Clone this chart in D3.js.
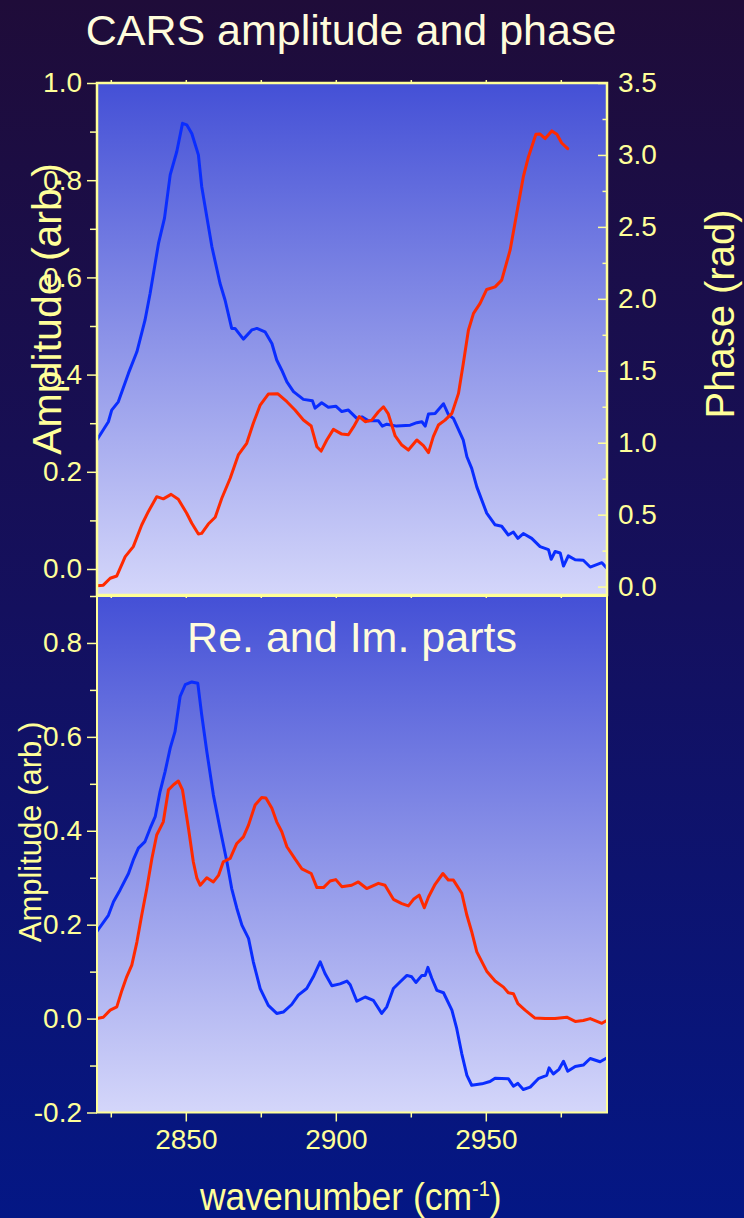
<!DOCTYPE html>
<html><head><meta charset="utf-8">
<script src="https://cdn.jsdelivr.net/npm/d3@7"></script>
<style>html,body{margin:0;padding:0;background:#0a1470;} svg{display:block;}</style>
</head><body>
<script>
// ---- Data ----
// Top panel: CARS amplitude (blue, left axis)
const ampWn = [
  2820.3,2824.2,2825.3,2827.5,2830.9,2833.7,2836.4,2838.1,2840.9,2842.9,
  2844.8,2847.0,2848.9,2850.3,2852.0,2854.2,2855.3,2857.0,2858.7,2861.4,
  2863.1,2865.3,2866.4,2869.2,2872.0,2873.7,2876.4,2878.7,2880.3,2882.0,
  2883.7,2885.9,2889.2,2892.2,2893.1,2895.3,2897.5,2900.0,2902.0,2904.2,
  2907.0,2908.7,2910.9,2914.2,2915.5,2917.0,2920.3,2924.8,2927.0,2928.7,
  2929.8,2930.9,2933.1,2935.9,2937.5,2939.2,2942.5,2943.7,2945.3,2947.0,
  2950.3,2953.1,2955.3,2957.5,2959.2,2960.7,2962.5,2965.3,2968.1,2970.9,
  2971.8,2973.1,2974.8,2975.9,2977.5,2979.8,2982.5,2984.8,2988.7,2990.3];
const ampVal = [
  0.265,0.303,0.327,0.344,0.403,0.447,0.512,0.567,0.670,0.722,
  0.811,0.859,0.917,0.914,0.896,0.852,0.787,0.725,0.663,0.588,
  0.553,0.495,0.495,0.473,0.492,0.495,0.488,0.464,0.430,0.409,
  0.385,0.365,0.349,0.346,0.331,0.342,0.333,0.335,0.324,0.327,
  0.310,0.313,0.305,0.305,0.294,0.298,0.294,0.296,0.301,0.303,
  0.294,0.319,0.320,0.340,0.318,0.310,0.265,0.231,0.207,0.169,
  0.115,0.091,0.088,0.070,0.076,0.063,0.073,0.063,0.046,0.040,
  0.020,0.036,0.033,0.006,0.027,0.019,0.018,0.004,0.013,0.002];
// Top panel: CARS phase (red, right axis, rad)
const phaseWn = [
  2820.3,2822.5,2824.8,2827.0,2829.8,2832.5,2835.3,2837.5,2840.3,2842.5,
  2845.1,2847.5,2850.3,2852.0,2854.2,2855.3,2857.5,2859.8,2862.0,2864.8,
  2867.5,2870.3,2872.5,2874.8,2877.5,2880.7,2883.7,2886.4,2889.2,2891.8,
  2893.7,2895.1,2897.0,2899.2,2902.0,2904.2,2905.9,2907.8,2909.8,2912.0,
  2914.2,2915.9,2917.5,2919.8,2922.0,2924.2,2927.0,2929.2,2930.9,2932.5,
  2934.2,2936.4,2938.7,2940.9,2942.5,2944.2,2945.9,2948.1,2950.3,2953.1,
  2955.3,2958.1,2960.3,2962.5,2964.2,2966.7,2968.1,2969.8,2972.0,2973.7,
  2975.3,2977.3];
const phaseVal = [
  0.005,0.010,0.058,0.074,0.208,0.278,0.428,0.521,0.625,0.610,
  0.641,0.607,0.510,0.440,0.366,0.370,0.435,0.482,0.614,0.753,
  0.915,0.996,1.135,1.262,1.338,1.340,1.285,1.227,1.158,1.116,
  0.972,0.942,1.019,1.093,1.060,1.055,1.110,1.181,1.146,1.157,
  1.215,1.250,1.200,1.047,0.984,0.949,1.019,0.980,0.931,1.042,
  1.123,1.157,1.204,1.343,1.551,1.782,1.899,1.968,2.065,2.083,
  2.130,2.338,2.593,2.847,2.986,3.144,3.145,3.114,3.167,3.144,
  3.083,3.044];
// Bottom panel: real part (blue)
const reWn = [
  2820.3,2824.2,2825.9,2828.1,2830.9,2832.5,2834.2,2836.4,2838.1,2839.8,
  2841.4,2843.1,2844.8,2846.4,2848.1,2849.8,2852.0,2854.0,2855.3,2857.0,
  2859.2,2861.4,2863.7,2865.3,2867.0,2868.7,2870.9,2872.5,2874.8,2877.5,
  2880.3,2882.5,2885.3,2887.5,2890.3,2892.5,2894.8,2896.4,2898.7,2901.4,
  2903.7,2904.8,2907.0,2909.8,2912.5,2915.3,2917.0,2919.2,2921.4,2923.7,
  2925.3,2926.7,2928.7,2929.8,2930.7,2932.0,2933.7,2935.9,2938.7,2940.3,
  2942.0,2943.7,2945.3,2948.7,2951.4,2953.1,2957.5,2959.2,2960.7,2962.5,
  2964.8,2967.5,2970.3,2971.1,2972.5,2974.4,2975.9,2977.3,2979.8,2982.5,
  2984.8,2988.1,2990.3];
const reVal = [
  0.185,0.220,0.249,0.274,0.309,0.338,0.363,0.377,0.405,0.430,
  0.483,0.526,0.576,0.611,0.686,0.711,0.717,0.714,0.647,0.569,
  0.476,0.405,0.334,0.277,0.235,0.199,0.171,0.121,0.064,0.028,
  0.011,0.014,0.030,0.050,0.064,0.089,0.121,0.096,0.070,0.074,
  0.080,0.072,0.037,0.046,0.039,0.011,0.025,0.064,0.078,0.092,
  0.089,0.077,0.092,0.092,0.109,0.086,0.060,0.055,0.018,-0.021,
  -0.075,-0.121,-0.142,-0.139,-0.134,-0.127,-0.128,-0.144,-0.138,-0.151,
  -0.146,-0.128,-0.121,-0.105,-0.118,-0.108,-0.091,-0.112,-0.102,-0.099,
  -0.085,-0.092,-0.084];
// Bottom panel: imaginary part (red)
const imWn = [
  2820.3,2822.5,2824.8,2827.0,2828.7,2830.3,2832.0,2833.7,2835.3,2837.0,
  2838.7,2840.3,2842.5,2844.2,2845.9,2847.5,2848.9,2850.9,2852.5,2853.7,
  2854.8,2857.0,2859.2,2860.9,2862.5,2864.8,2867.0,2869.2,2870.9,2873.1,
  2875.3,2876.7,2878.7,2880.3,2882.0,2883.7,2886.4,2888.7,2891.8,2893.7,
  2895.9,2898.1,2900.0,2902.0,2905.3,2907.5,2910.3,2914.2,2916.4,2919.2,
  2922.0,2924.2,2925.9,2927.8,2929.5,2930.9,2933.1,2935.7,2937.5,2939.2,
  2942.0,2943.7,2945.3,2947.0,2950.3,2953.1,2955.9,2957.5,2959.2,2960.7,
  2963.1,2966.4,2969.8,2973.1,2977.0,2979.8,2982.5,2984.8,2988.7,2990.3];
const imVal = [
  0.000,0.003,0.018,0.025,0.060,0.089,0.114,0.163,0.220,0.277,
  0.341,0.391,0.419,0.487,0.498,0.506,0.487,0.405,0.334,0.299,
  0.284,0.300,0.291,0.305,0.334,0.341,0.373,0.387,0.412,0.455,
  0.471,0.470,0.448,0.419,0.398,0.366,0.340,0.319,0.309,0.279,
  0.279,0.293,0.296,0.281,0.284,0.291,0.277,0.288,0.284,0.254,
  0.245,0.240,0.254,0.263,0.236,0.259,0.286,0.309,0.295,0.295,
  0.267,0.220,0.185,0.142,0.101,0.080,0.067,0.055,0.053,0.032,
  0.018,0.001,0.000,0.000,0.003,-0.006,-0.004,0.000,-0.010,-0.004];

// Tick values
const xMajorTicks = [2850, 2900, 2950];
const xMinorTicks = [2825, 2875, 2925, 2975];
const ampMajorTicks = [0, 0.2, 0.4, 0.6, 0.8, 1.0];
const ampMinorTicks = [0.1, 0.3, 0.5, 0.7, 0.9];
const phaseMajorTicks = [0, 0.5, 1.0, 1.5, 2.0, 2.5, 3.0, 3.5];
const phaseMinorTicks = [0.25, 0.75, 1.25, 1.75, 2.25, 2.75, 3.25];
const reimMajorTicks = [-0.2, 0, 0.2, 0.4, 0.6, 0.8];
const reimMinorTicks = [-0.1, 0.1, 0.3, 0.5, 0.7, 0.9];

// Texts
const mainTitle = "CARS amplitude and phase";
const subTitle = "Re. and Im. parts";
const ampLabel = "Amplitude (arb.)";
const phaseLabel = "Phase (rad)";
const xLabelMain = "wavenumber (cm";
const xLabelSup = "-1";

// ---- Layout ----
const W = 744, H = 1218;
const L = 97, R = 607, T1 = 83, B1 = 595, T2 = 596, B2 = 1112.5;
const FONT = "'Liberation Sans', Arial, Helvetica, sans-serif";
const YEL = "#ffff99", CREAM = "#fffcdc";
const BLUE = "#0a2dff", RED = "#ff2a00";

const svg = d3.select("body").append("svg").attr("width", W).attr("height", H)
  .style("font-family", FONT);
const defs = svg.append("defs");
const bg = defs.append("linearGradient").attr("id", "bg").attr("x1", 0).attr("y1", 0).attr("x2", 0).attr("y2", 1);
bg.append("stop").attr("offset", 0).attr("stop-color", "#1f0c39");
bg.append("stop").attr("offset", 0.5).attr("stop-color", "#14105e");
bg.append("stop").attr("offset", 1).attr("stop-color", "#041785");
const pg = defs.append("linearGradient").attr("id", "pg").attr("x1", 0).attr("y1", 0).attr("x2", 0).attr("y2", 1);
pg.append("stop").attr("offset", 0).attr("stop-color", "#4450d6");
pg.append("stop").attr("offset", 1).attr("stop-color", "#d4d6fa");
defs.append("clipPath").attr("id", "c1").append("rect").attr("x", L).attr("y", T1).attr("width", R - L).attr("height", B1 - T1);
defs.append("clipPath").attr("id", "c2").append("rect").attr("x", L).attr("y", T2).attr("width", R - L).attr("height", B2 - T2);

svg.append("rect").attr("width", W).attr("height", H).attr("fill", "url(#bg)");

// Scales
const x = d3.scaleLinear().domain([2820.4, 2990.4]).range([L, R]);
const yAmp = d3.scaleLinear().domain([-0.0535, 1.0]).range([B1, T1]);
const yPh = d3.scaleLinear().domain([-0.0583, 3.5]).range([B1, T1]);
const yRI = d3.scaleLinear().domain([-0.2, 0.9]).range([B2, T2]);

// Panels
svg.append("rect").attr("x", L).attr("y", T1).attr("width", R - L).attr("height", B1 - T1).attr("fill", "url(#pg)");
svg.append("rect").attr("x", L).attr("y", T2).attr("width", R - L).attr("height", B2 - T2).attr("fill", "url(#pg)");

// Curves
function drawLine(clip, xs, ys, yScale, color) {
  const pts = xs.map((d, i) => [d, ys[i]]);
  svg.append("path").datum(pts).attr("clip-path", `url(#${clip})`)
    .attr("fill", "none").attr("stroke", color).attr("stroke-width", 3)
    .attr("stroke-linejoin", "round").attr("stroke-linecap", "round")
    .attr("d", d3.line().x(d => x(d[0])).y(d => yScale(d[1])));
}
drawLine("c1", ampWn, ampVal, yAmp, BLUE);
drawLine("c1", phaseWn, phaseVal, yPh, RED);
drawLine("c2", reWn, reVal, yRI, BLUE);
drawLine("c2", imWn, imVal, yRI, RED);

// Frames
const frame = svg.append("g").attr("fill", "none").attr("stroke", YEL);
frame.append("rect").attr("x", L).attr("y", T1).attr("width", R - L).attr("height", B1 - T1).attr("stroke-width", 2.5);
frame.append("rect").attr("x", L).attr("y", T2).attr("width", R - L).attr("height", B2 - T2).attr("stroke-width", 2);

function styleAxis(g, fs) {
  g.select(".domain").remove();
  g.selectAll("line").attr("stroke", YEL).attr("stroke-width", 1.5);
  g.selectAll("text").attr("fill", YEL).style("font-size", fs + "px").style("font-family", FONT);
}
const fmt = d => d3.format(".1f")(d).replace("\u2212", "-");

// Left axis top
svg.append("g").attr("transform", `translate(${L},0)`)
  .call(d3.axisLeft(yAmp).tickValues(ampMajorTicks).tickSize(10).tickPadding(5).tickFormat(fmt))
  .call(g => styleAxis(g, 28));
svg.append("g").attr("transform", `translate(${L},0)`)
  .call(d3.axisLeft(yAmp).tickValues(ampMinorTicks).tickSize(7).tickFormat(""))
  .call(g => styleAxis(g, 28));
// Right axis (phase)
svg.append("g").attr("transform", `translate(${R},0)`)
  .call(d3.axisRight(yPh).tickValues(phaseMajorTicks).tickSize(-9).tickPadding(11).tickFormat(fmt))
  .call(g => styleAxis(g, 28));
svg.append("g").attr("transform", `translate(${R},0)`)
  .call(d3.axisRight(yPh).tickValues(phaseMinorTicks).tickSize(-4.5).tickFormat(""))
  .call(g => styleAxis(g, 28));
// Left axis bottom
svg.append("g").attr("transform", `translate(${L},0)`)
  .call(d3.axisLeft(yRI).tickValues(reimMajorTicks).tickSize(10).tickPadding(5).tickFormat(fmt))
  .call(g => styleAxis(g, 28));
svg.append("g").attr("transform", `translate(${L},0)`)
  .call(d3.axisLeft(yRI).tickValues(reimMinorTicks).tickSize(7).tickFormat(""))
  .call(g => styleAxis(g, 28));
// Bottom x axis
svg.append("g").attr("transform", `translate(0,${B2})`)
  .call(d3.axisBottom(x).tickValues(xMajorTicks).tickSize(9).tickPadding(8).tickFormat(d3.format("d")))
  .call(g => styleAxis(g, 28));
svg.append("g").attr("transform", `translate(0,${B2})`)
  .call(d3.axisBottom(x).tickValues(xMinorTicks).tickSize(5).tickFormat(""))
  .call(g => styleAxis(g, 28));
// small ticks on top and bottom edges of the top panel
const allX = xMajorTicks.concat(xMinorTicks);
svg.append("g").attr("transform", `translate(0,${T1})`)
  .call(d3.axisTop(x).tickValues(allX).tickSize(3).tickFormat(""))
  .call(g => styleAxis(g, 28));
svg.append("g").attr("transform", `translate(0,${B1})`)
  .call(d3.axisBottom(x).tickValues(allX).tickSize(3).tickFormat(""))
  .call(g => styleAxis(g, 28));

// Titles & labels
svg.append("text").attr("x", 351).attr("y", 44.5).attr("text-anchor", "middle")
  .attr("fill", CREAM).style("font-size", "43px").text(mainTitle);
svg.append("text").attr("x", 352).attr("y", 652).attr("text-anchor", "middle")
  .attr("fill", CREAM).style("font-size", "43px").text(subTitle);
svg.append("text").attr("transform", "translate(61,309) rotate(-90)").attr("text-anchor", "middle")
  .attr("fill", YEL).style("font-size", "41px").text(ampLabel);
svg.append("text").attr("transform", "translate(734,314) rotate(-90)").attr("text-anchor", "middle")
  .attr("fill", YEL).style("font-size", "40px").text(phaseLabel);
svg.append("text").attr("transform", "translate(41,832) rotate(-90)").attr("text-anchor", "middle")
  .attr("fill", YEL).style("font-size", "31px").text(ampLabel);
const xl = svg.append("text").attr("transform", "translate(200,1210) scale(0.91,1)")
  .attr("fill", YEL).style("font-size", "39px");
xl.append("tspan").text(xLabelMain);
xl.append("tspan").attr("dy", -14).style("font-size", "22px").text(xLabelSup);
xl.append("tspan").attr("dy", 14).text(")");
</script>
</body></html>
